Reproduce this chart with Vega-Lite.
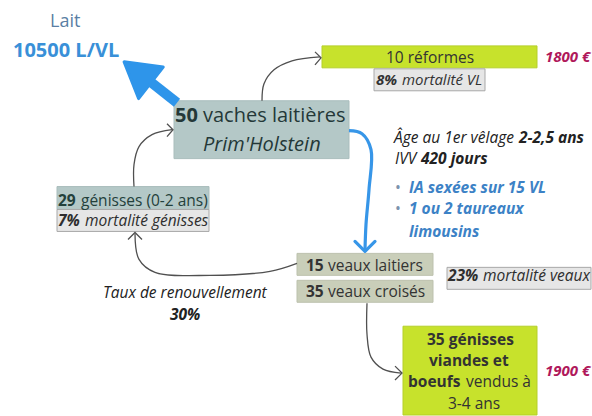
{
  "$schema": "https://vega.github.io/schema/vega-lite/v6.json",
  "width": 592,
  "height": 416,
  "autosize": {"type": "fit", "contains": "padding"},
  "padding": 0,
  "background": "white",
  "config": {"view": {"stroke": null}, "text": {"font": "Open Sans"}},
  "datasets": {
    "boxes": [
      {"name": "vl", "x": 174, "x2": 349, "y": 101, "y2": 159, "kind": "vl"},
      {"name": "ref", "x": 322, "x2": 537, "y": 46, "y2": 68, "kind": "lime"},
      {"name": "mortvl", "x": 374, "x2": 485, "y": 69, "y2": 91, "kind": "mort"},
      {"name": "gen", "x": 57, "x2": 209, "y": 187, "y2": 210, "kind": "vl"},
      {"name": "mortgen", "x": 57, "x2": 209, "y": 210, "y2": 232, "kind": "mort"},
      {"name": "veau1", "x": 297, "x2": 433, "y": 254, "y2": 276, "kind": "veau"},
      {"name": "veau2", "x": 297, "x2": 433, "y": 281, "y2": 303, "kind": "veau"},
      {"name": "mortveau", "x": 447, "x2": 591, "y": 268, "y2": 290, "kind": "mort"},
      {"name": "big", "x": 403, "x2": 537, "y": 327, "y2": 416, "kind": "lime"}
    ],
    "paths": [
      {"id": "c1", "o": 0, "x": 262, "y": 101, "kind": "gray"},
      {"id": "c1", "o": 1, "x": 264, "y": 84, "kind": "gray"},
      {"id": "c1", "o": 2, "x": 274, "y": 70, "kind": "gray"},
      {"id": "c1", "o": 3, "x": 292, "y": 61, "kind": "gray"},
      {"id": "c1", "o": 4, "x": 320, "y": 57, "kind": "gray"},
      {"id": "c2", "o": 0, "x": 134, "y": 187, "kind": "gray"},
      {"id": "c2", "o": 1, "x": 134, "y": 165, "kind": "gray"},
      {"id": "c2", "o": 2, "x": 139, "y": 147, "kind": "gray"},
      {"id": "c2", "o": 3, "x": 152, "y": 135, "kind": "gray"},
      {"id": "c2", "o": 4, "x": 172, "y": 130, "kind": "gray"},
      {"id": "c3", "o": 0, "x": 297, "y": 264, "kind": "gray"},
      {"id": "c3", "o": 1, "x": 270, "y": 272, "kind": "gray"},
      {"id": "c3", "o": 2, "x": 210, "y": 276, "kind": "gray"},
      {"id": "c3", "o": 3, "x": 155, "y": 273, "kind": "gray"},
      {"id": "c3", "o": 4, "x": 139, "y": 260, "kind": "gray"},
      {"id": "c3", "o": 5, "x": 135, "y": 234, "kind": "gray"},
      {"id": "c4", "o": 0, "x": 367, "y": 304, "kind": "gray"},
      {"id": "c4", "o": 1, "x": 367, "y": 335, "kind": "gray"},
      {"id": "c4", "o": 2, "x": 371, "y": 358, "kind": "gray"},
      {"id": "c4", "o": 3, "x": 383, "y": 370, "kind": "gray"},
      {"id": "c4", "o": 4, "x": 401, "y": 374, "kind": "gray"},
      {"id": "b1", "o": 0, "x": 349, "y": 131, "kind": "blue"},
      {"id": "b1", "o": 1, "x": 362, "y": 134, "kind": "blue"},
      {"id": "b1", "o": 2, "x": 371, "y": 150, "kind": "blue"},
      {"id": "b1", "o": 3, "x": 369, "y": 190, "kind": "blue"},
      {"id": "b1", "o": 4, "x": 366, "y": 225, "kind": "blue"},
      {"id": "b1", "o": 5, "x": 365, "y": 251, "kind": "blue"}
    ],
    "heads": [
      {"id": "h1", "o": 0, "x": 315, "y": 52, "kind": "gray"},
      {"id": "h1", "o": 1, "x": 321, "y": 58, "kind": "gray"},
      {"id": "h1", "o": 2, "x": 315, "y": 65, "kind": "gray"},
      {"id": "h2", "o": 0, "x": 167, "y": 124, "kind": "gray"},
      {"id": "h2", "o": 1, "x": 173, "y": 130, "kind": "gray"},
      {"id": "h2", "o": 2, "x": 167, "y": 137, "kind": "gray"},
      {"id": "h3", "o": 0, "x": 128, "y": 240, "kind": "gray"},
      {"id": "h3", "o": 1, "x": 135, "y": 233, "kind": "gray"},
      {"id": "h3", "o": 2, "x": 142, "y": 240, "kind": "gray"},
      {"id": "h4", "o": 0, "x": 395, "y": 367, "kind": "gray"},
      {"id": "h4", "o": 1, "x": 402, "y": 374, "kind": "gray"},
      {"id": "h4", "o": 2, "x": 395, "y": 381, "kind": "gray"},
      {"id": "hb", "o": 0, "x": 355, "y": 242, "kind": "blue"},
      {"id": "hb", "o": 1, "x": 365, "y": 252, "kind": "blue"},
      {"id": "hb", "o": 2, "x": 375, "y": 242, "kind": "blue"}
    ],
    "bigarrow": [{"x": 177, "y": 103, "x2": 148, "y2": 80}],
    "bighead": [{"x": 137.5, "y": 72.5}],
    "texts": [
      {"t": "Lait", "x": 50, "y": 27, "role": "lait", "w": "n"},
      {"t": "10500 L/VL", "x": 13, "y": 57, "role": "laitval", "w": "b"},
      {"t": "50", "x": 175, "y": 122, "role": "main", "w": "b"},
      {"t": "vaches laitières", "x": 203, "y": 122, "role": "main", "w": "n"},
      {"t": "Prim'Holstein", "x": 203, "y": 151, "role": "main", "w": "i"},
      {"t": "10 réformes", "x": 386, "y": 63, "role": "box", "w": "n"},
      {"t": "8%", "x": 376, "y": 85, "role": "mortvl", "w": "bi"},
      {"t": "mortalité VL", "x": 402, "y": 85, "role": "mortvl", "w": "i"},
      {"t": "1800 €", "x": 545, "y": 62, "role": "price", "w": "bi"},
      {"t": "Âge au 1er vêlage", "x": 394, "y": 143, "role": "note", "w": "i"},
      {"t": "2-2,5 ans", "x": 519, "y": 143, "role": "note", "w": "bi"},
      {"t": "IVV", "x": 395, "y": 164, "role": "note", "w": "i"},
      {"t": "420 jours", "x": 421, "y": 164, "role": "note", "w": "bi"},
      {"t": "•", "x": 395, "y": 193, "role": "bullet", "w": "n"},
      {"t": "IA sexées sur 15 VL", "x": 409, "y": 193, "role": "blue", "w": "bi"},
      {"t": "•", "x": 395, "y": 215, "role": "bullet", "w": "n"},
      {"t": "1 ou 2 taureaux", "x": 409, "y": 215, "role": "blue", "w": "bi"},
      {"t": "limousins", "x": 409, "y": 238, "role": "blue", "w": "bi"},
      {"t": "29", "x": 58, "y": 206, "role": "gen", "w": "b"},
      {"t": "génisses (0-2 ans)", "x": 81, "y": 206, "role": "gen", "w": "n"},
      {"t": "7%", "x": 58, "y": 227, "role": "mort", "w": "bi"},
      {"t": "mortalité génisses", "x": 85, "y": 227, "role": "mort", "w": "i"},
      {"t": "15", "x": 306, "y": 272, "role": "veau", "w": "b"},
      {"t": "veaux laitiers", "x": 328, "y": 272, "role": "veau", "w": "n"},
      {"t": "35", "x": 306, "y": 298, "role": "veau", "w": "b"},
      {"t": "veaux croisés", "x": 328, "y": 298, "role": "veau", "w": "n"},
      {"t": "23%", "x": 448, "y": 282, "role": "mort", "w": "bi"},
      {"t": "mortalité veaux", "x": 483, "y": 282, "role": "mort", "w": "i"},
      {"t": "Taux de renouvellement", "x": 103, "y": 299, "role": "note", "w": "i"},
      {"t": "30%", "x": 170, "y": 321, "role": "note", "w": "bi"},
      {"t": "35 génisses", "x": 427, "y": 346, "role": "box", "w": "b"},
      {"t": "viandes et", "x": 429, "y": 367, "role": "box", "w": "b"},
      {"t": "boeufs", "x": 408, "y": 388, "role": "box", "w": "b"},
      {"t": "vendus à", "x": 466, "y": 388, "role": "box", "w": "n"},
      {"t": "3-4 ans", "x": 448, "y": 410, "role": "box", "w": "n"},
      {"t": "1900 €", "x": 545, "y": 377, "role": "price", "w": "bi"}
    ]
  },
  "layer": [
    {
      "data": {"name": "boxes"},
      "mark": {"type": "rect", "strokeWidth": 1},
      "encoding": {
        "x": {"field": "x", "type": "quantitative", "scale": {"domain": [0, 592], "nice": false, "zero": false}, "axis": null},
        "x2": {"field": "x2"},
        "y": {"field": "y", "type": "quantitative", "scale": {"domain": [0, 416], "nice": false, "zero": false, "reverse": true}, "axis": null},
        "y2": {"field": "y2"},
        "fill": {"field": "kind", "type": "nominal", "scale": {"domain": ["vl", "lime", "mort", "veau"], "range": ["#b4c8c7", "#c7e22c", "#e6e6e6", "#c9ceb9"]}, "legend": null},
        "stroke": {"field": "kind", "type": "nominal", "scale": {"domain": ["vl", "lime", "mort", "veau"], "range": ["#a9bdbc", "#b5cf2a", "#a8a8a8", "#bcc1ad"]}, "legend": null}
      }
    },
    {
      "data": {"name": "paths"},
      "transform": [{"filter": "datum.kind === 'gray'"}],
      "mark": {"type": "line", "interpolate": "catmull-rom", "color": "#505050", "strokeWidth": 1.3},
      "encoding": {
        "x": {"field": "x", "type": "quantitative", "scale": {"domain": [0, 592], "nice": false, "zero": false}, "axis": null},
        "y": {"field": "y", "type": "quantitative", "scale": {"domain": [0, 416], "nice": false, "zero": false, "reverse": true}, "axis": null},
        "detail": {"field": "id"},
        "order": {"field": "o", "type": "quantitative"}
      }
    },
    {
      "data": {"name": "paths"},
      "transform": [{"filter": "datum.kind === 'blue'"}],
      "mark": {"type": "line", "interpolate": "catmull-rom", "color": "#3796e8", "strokeWidth": 3.2},
      "encoding": {
        "x": {"field": "x", "type": "quantitative", "scale": {"domain": [0, 592], "nice": false, "zero": false}, "axis": null},
        "y": {"field": "y", "type": "quantitative", "scale": {"domain": [0, 416], "nice": false, "zero": false, "reverse": true}, "axis": null},
        "detail": {"field": "id"},
        "order": {"field": "o", "type": "quantitative"}
      }
    },
    {
      "data": {"name": "heads"},
      "transform": [{"filter": "datum.kind === 'gray'"}],
      "mark": {"type": "line", "color": "#505050", "strokeWidth": 1.3, "strokeJoin": "miter"},
      "encoding": {
        "x": {"field": "x", "type": "quantitative", "scale": {"domain": [0, 592], "nice": false, "zero": false}, "axis": null},
        "y": {"field": "y", "type": "quantitative", "scale": {"domain": [0, 416], "nice": false, "zero": false, "reverse": true}, "axis": null},
        "detail": {"field": "id"},
        "order": {"field": "o", "type": "quantitative"}
      }
    },
    {
      "data": {"name": "heads"},
      "transform": [{"filter": "datum.kind === 'blue'"}],
      "mark": {"type": "line", "color": "#3796e8", "strokeWidth": 3.2, "strokeCap": "round", "strokeJoin": "round"},
      "encoding": {
        "x": {"field": "x", "type": "quantitative", "scale": {"domain": [0, 592], "nice": false, "zero": false}, "axis": null},
        "y": {"field": "y", "type": "quantitative", "scale": {"domain": [0, 416], "nice": false, "zero": false, "reverse": true}, "axis": null},
        "detail": {"field": "id"},
        "order": {"field": "o", "type": "quantitative"}
      }
    },
    {
      "data": {"name": "bigarrow"},
      "mark": {"type": "rule", "color": "#2e95ea", "strokeWidth": 10},
      "encoding": {
        "x": {"field": "x", "type": "quantitative", "scale": {"domain": [0, 592], "nice": false, "zero": false}, "axis": null},
        "y": {"field": "y", "type": "quantitative", "scale": {"domain": [0, 416], "nice": false, "zero": false, "reverse": true}, "axis": null},
        "x2": {"field": "x2"},
        "y2": {"field": "y2"}
      }
    },
    {
      "data": {"name": "bighead"},
      "mark": {"type": "point", "shape": "M0,-0.85L1,0.85L-1,0.85Z", "size": 1600, "angle": -52, "filled": true, "fill": "#2e95ea", "stroke": "#2e95ea", "strokeWidth": 3, "strokeJoin": "round", "opacity": 1},
      "encoding": {
        "x": {"field": "x", "type": "quantitative", "scale": {"domain": [0, 592], "nice": false, "zero": false}, "axis": null},
        "y": {"field": "y", "type": "quantitative", "scale": {"domain": [0, 416], "nice": false, "zero": false, "reverse": true}, "axis": null}
      }
    },
    {
      "data": {"name": "texts"},
      "transform": [{"filter": "datum.w === 'n'"}],
      "mark": {"type": "text", "align": "left", "baseline": "alphabetic", "font": "Open Sans", "fontWeight": "normal", "fontStyle": "normal"},
      "encoding": {
        "x": {"field": "x", "type": "quantitative", "scale": {"domain": [0, 592], "nice": false, "zero": false}, "axis": null},
        "y": {"field": "y", "type": "quantitative", "scale": {"domain": [0, 416], "nice": false, "zero": false, "reverse": true}, "axis": null},
        "text": {"field": "t"},
        "color": {"field": "role", "type": "nominal", "scale": {"domain": ["lait", "laitval", "main", "box", "mortvl", "price", "note", "bullet", "blue", "gen", "mort", "veau"], "range": ["#5a7fa4", "#3990d8", "#243838", "#333333", "#333333", "#b0185b", "#222222", "#7b93ad", "#3c82c6", "#23403b", "#2e2e2e", "#333333"]}, "legend": null},
        "size": {"field": "role", "type": "nominal", "scale": {"type": "ordinal", "domain": ["lait", "laitval", "main", "box", "mortvl", "price", "note", "bullet", "blue", "gen", "mort", "veau"], "range": [18, 20, 20, 15.5, 15, 15, 15.5, 15.5, 15.5, 15.5, 15.5, 15.5]}, "legend": null}
      }
    },
    {
      "data": {"name": "texts"},
      "transform": [{"filter": "datum.w === 'b'"}],
      "mark": {"type": "text", "align": "left", "baseline": "alphabetic", "font": "Open Sans", "fontWeight": "bold", "fontStyle": "normal"},
      "encoding": {
        "x": {"field": "x", "type": "quantitative", "scale": {"domain": [0, 592], "nice": false, "zero": false}, "axis": null},
        "y": {"field": "y", "type": "quantitative", "scale": {"domain": [0, 416], "nice": false, "zero": false, "reverse": true}, "axis": null},
        "text": {"field": "t"},
        "color": {"field": "role", "type": "nominal", "scale": {"domain": ["lait", "laitval", "main", "box", "mortvl", "price", "note", "bullet", "blue", "gen", "mort", "veau"], "range": ["#5a7fa4", "#3990d8", "#243838", "#333333", "#333333", "#b0185b", "#222222", "#7b93ad", "#3c82c6", "#23403b", "#2e2e2e", "#333333"]}, "legend": null},
        "size": {"field": "role", "type": "nominal", "scale": {"type": "ordinal", "domain": ["lait", "laitval", "main", "box", "mortvl", "price", "note", "bullet", "blue", "gen", "mort", "veau"], "range": [18, 20, 20, 15.5, 15, 15, 15.5, 15.5, 15.5, 15.5, 15.5, 15.5]}, "legend": null}
      }
    },
    {
      "data": {"name": "texts"},
      "transform": [{"filter": "datum.w === 'i'"}],
      "mark": {"type": "text", "align": "left", "baseline": "alphabetic", "font": "Open Sans", "fontWeight": "normal", "fontStyle": "italic"},
      "encoding": {
        "x": {"field": "x", "type": "quantitative", "scale": {"domain": [0, 592], "nice": false, "zero": false}, "axis": null},
        "y": {"field": "y", "type": "quantitative", "scale": {"domain": [0, 416], "nice": false, "zero": false, "reverse": true}, "axis": null},
        "text": {"field": "t"},
        "color": {"field": "role", "type": "nominal", "scale": {"domain": ["lait", "laitval", "main", "box", "mortvl", "price", "note", "bullet", "blue", "gen", "mort", "veau"], "range": ["#5a7fa4", "#3990d8", "#243838", "#333333", "#333333", "#b0185b", "#222222", "#7b93ad", "#3c82c6", "#23403b", "#2e2e2e", "#333333"]}, "legend": null},
        "size": {"field": "role", "type": "nominal", "scale": {"type": "ordinal", "domain": ["lait", "laitval", "main", "box", "mortvl", "price", "note", "bullet", "blue", "gen", "mort", "veau"], "range": [18, 20, 20, 15.5, 15, 15, 15.5, 15.5, 15.5, 15.5, 15.5, 15.5]}, "legend": null}
      }
    },
    {
      "data": {"name": "texts"},
      "transform": [{"filter": "datum.w === 'bi'"}],
      "mark": {"type": "text", "align": "left", "baseline": "alphabetic", "font": "Open Sans", "fontWeight": "bold", "fontStyle": "italic"},
      "encoding": {
        "x": {"field": "x", "type": "quantitative", "scale": {"domain": [0, 592], "nice": false, "zero": false}, "axis": null},
        "y": {"field": "y", "type": "quantitative", "scale": {"domain": [0, 416], "nice": false, "zero": false, "reverse": true}, "axis": null},
        "text": {"field": "t"},
        "color": {"field": "role", "type": "nominal", "scale": {"domain": ["lait", "laitval", "main", "box", "mortvl", "price", "note", "bullet", "blue", "gen", "mort", "veau"], "range": ["#5a7fa4", "#3990d8", "#243838", "#333333", "#333333", "#b0185b", "#222222", "#7b93ad", "#3c82c6", "#23403b", "#2e2e2e", "#333333"]}, "legend": null},
        "size": {"field": "role", "type": "nominal", "scale": {"type": "ordinal", "domain": ["lait", "laitval", "main", "box", "mortvl", "price", "note", "bullet", "blue", "gen", "mort", "veau"], "range": [18, 20, 20, 15.5, 15, 15, 15.5, 15.5, 15.5, 15.5, 15.5, 15.5]}, "legend": null}
      }
    }
  ]
}
